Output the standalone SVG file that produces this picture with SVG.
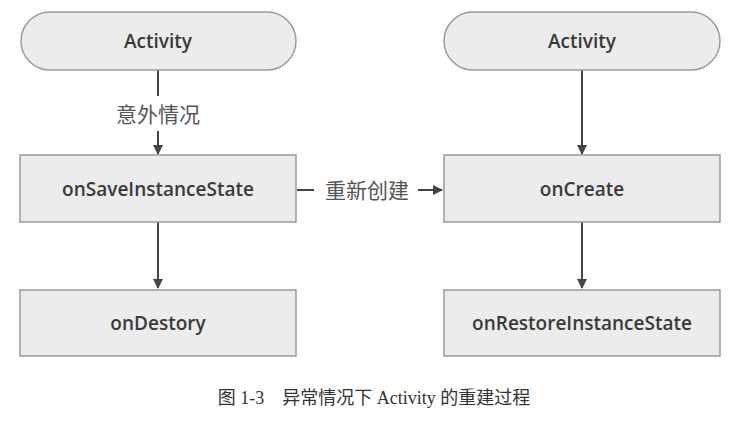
<svg xmlns="http://www.w3.org/2000/svg" width="748" height="423" viewBox="0 0 748 423">
<style>
.n{fill:#ececec;stroke:#9a9a9a;stroke-width:1.5}
.t{font-family:"Open Sans","Noto Sans",sans-serif;font-size:19px;font-weight:600;fill:#3a3a3a;text-anchor:middle}
.c{font-family:"Noto Sans CJK SC",sans-serif;font-size:21px;fill:#555;text-anchor:middle}
.l{stroke:#444;stroke-width:2;fill:none}
</style>
<defs><marker id="a" markerWidth="10" markerHeight="10" refX="9" refY="5" orient="auto" markerUnits="userSpaceOnUse"><path d="M0,0L10,5L0,10z" fill="#444"/></marker></defs>
<rect width="748" height="423" fill="#fff"/>
<g id="connectors">
<path class="l" d="M158,70V96"/><path class="l" d="M158,131V154" marker-end="url(#a)"/>
<path class="l" d="M158,222V288" marker-end="url(#a)"/>
<path class="l" d="M297,190H314"/><path class="l" d="M418,190H442" marker-end="url(#a)"/>
<path class="l" d="M582,70V154" marker-end="url(#a)"/>
<path class="l" d="M582,222V288" marker-end="url(#a)"/>
<text class="c" x="158" y="122">意外情况</text>
<text class="c" x="367" y="198">重新创建</text>
</g>
<g id="act1"><rect class="n" x="21" y="12" width="275" height="58" rx="29"/><text class="t" x="158" y="48">Activity</text></g>
<g id="save"><rect class="n" x="20" y="155" width="276" height="67"/><text class="t" x="158" y="196">onSaveInstanceState</text></g>
<g id="destroy"><rect class="n" x="20" y="290" width="276" height="66"/><text class="t" x="158" y="330">onDestory</text></g>
<g id="act2"><rect class="n" x="444" y="12" width="276" height="58" rx="29"/><text class="t" x="582" y="48">Activity</text></g>
<g id="create"><rect class="n" x="444" y="155" width="276" height="67"/><text class="t" x="582" y="196">onCreate</text></g>
<g id="restore"><rect class="n" x="444" y="290" width="276" height="66"/><text class="t" x="582" y="330">onRestoreInstanceState</text></g>
<text x="374" y="404" style="font-family:'Liberation Serif','Noto Sans CJK SC',serif;font-size:18px;fill:#333;text-anchor:middle" xml:space="preserve">图 1-3    异常情况下 Activity 的重建过程</text>
</svg>
